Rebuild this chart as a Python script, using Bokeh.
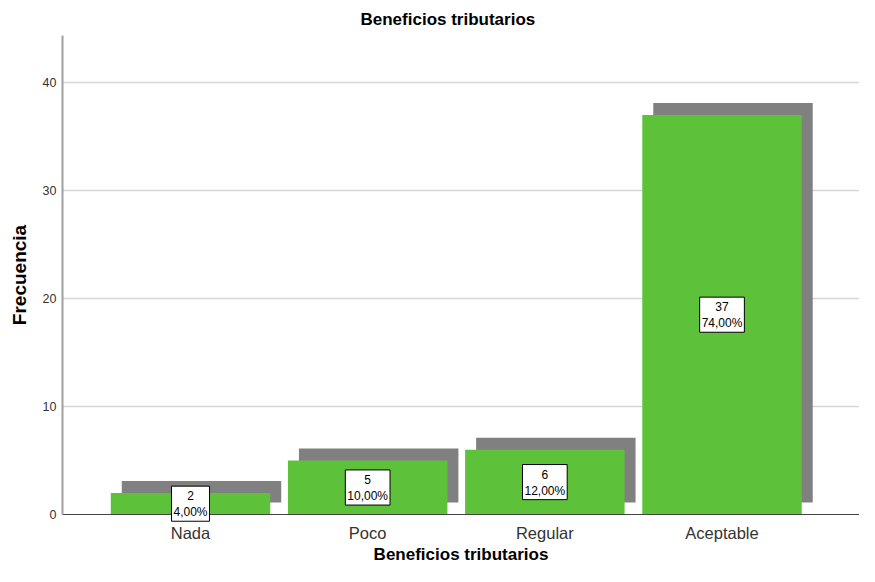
from bokeh.plotting import figure
from bokeh.models import ColumnDataSource, FixedTicker, Range1d
from bokeh.transform import dodge
from bokeh.core.properties import value
from bokeh.embed import file_html
from bokeh.resources import INLINE

# ---- data ----
categories = ["Nada", "Poco", "Regular", "Aceptable"]
counts = [2, 5, 6, 37]
percents = [4.0, 10.0, 12.0, 74.0]
y_ticks = [0, 10, 20, 30, 40]

title_text = "Beneficios tributarios"
x_title = "Beneficios tributarios"
y_title = "Frecuencia"

xs = list(range(len(categories)))
labels = [f"{c}\n{p:.2f}%".replace(".", ",") for c, p in zip(counts, percents)]
mids = [c / 2 for c in counts]

src = ColumnDataSource(dict(x=xs, count=counts, mid=mids, label=labels))

FONT = "Liberation Sans"
GREEN = "#5DC139"
SHADOW = "#808080"

p = figure(width=859, height=566, output_backend="svg", toolbar_location=None,
           x_range=Range1d(-0.7225, 3.776), y_range=Range1d(0, 44.35),
           min_border_left=62, min_border_right=0, min_border_top=35,
           min_border_bottom=52, title=title_text)
p.outline_line_color = None
p.background_fill_color = "white"
p.border_fill_color = "white"

p.title.align = "left"
p.title.offset = 298
p.title.standoff = 13
p.title.text_font = FONT
p.title.text_font_size = "17px"
p.title.text_font_style = "bold"
p.title.text_color = "#000000"

# shadow bars
p.vbar(x=dodge("x", 0.062), top=dodge("count", 1.11), bottom=1.11, width=0.9,
       source=src, fill_color=SHADOW, line_color=None)
# main bars
p.vbar(x="x", top="count", bottom=0, width=0.9, source=src,
       fill_color=GREEN, line_color=None)

# labels
p.text(x="x", y="mid", text="label", source=src, text_align="center",
       text_baseline="middle", text_font=value(FONT), text_font_size="12px",
       text_color="black", text_line_height=1.15,
       background_fill_color="white", border_line_color="black",
       border_line_width=1, padding=dict(left=2, right=2, top=3, bottom=2),
       level="overlay")

# axes
xa = p.xaxis[0]
xa.ticker = FixedTicker(ticks=xs)
xa.major_label_overrides = {i: c for i, c in enumerate(categories)}
xa.major_tick_line_color = None
xa.major_tick_out = 0
xa.minor_tick_line_color = None
xa.axis_line_color = "#444444"
xa.axis_line_width = 1
xa.major_label_text_font = FONT
xa.major_label_text_font_size = "16.5px"
xa.major_label_text_color = "#333333"
xa.major_label_standoff = 9
xa.axis_label = x_title
xa.axis_label_text_font = FONT
xa.axis_label_text_font_size = "17px"
xa.axis_label_text_font_style = "bold"
xa.axis_label_text_color = "#000000"
xa.axis_label_standoff = 0

ya = p.yaxis[0]
ya.ticker = FixedTicker(ticks=y_ticks)
ya.major_tick_line_color = None
ya.major_tick_out = 0
ya.minor_tick_line_color = None
ya.axis_line_color = "#A0A0A0"
ya.axis_line_width = 2
ya.major_label_text_font = FONT
ya.major_label_text_font_size = "12.5px"
ya.major_label_text_color = "#333333"
ya.major_label_standoff = 6
ya.axis_label = y_title
ya.axis_label_text_font = FONT
ya.axis_label_text_font_size = "19px"
ya.axis_label_text_font_style = "bold"
ya.axis_label_text_color = "#000000"
ya.axis_label_standoff = 10

p.xgrid.grid_line_color = None
p.ygrid.grid_line_color = "#D6D6D6"
p.ygrid.grid_line_width = 1.5

open("out.html", "w").write(file_html(p, INLINE))
